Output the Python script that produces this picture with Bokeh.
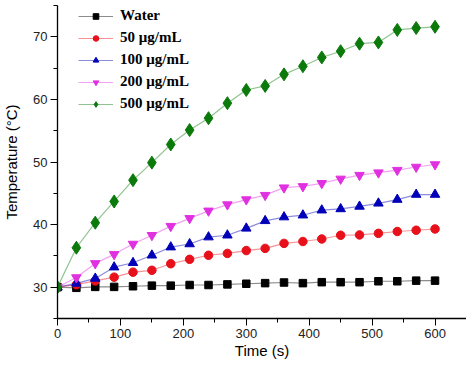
from bokeh.plotting import figure
from bokeh.models import SingleIntervalTicker, Range1d, Legend, LegendItem
from bokeh.embed import file_html
from bokeh.resources import INLINE

time_s = [0, 30, 60, 90, 120, 150, 180, 210, 240, 270, 300, 330, 360, 390, 420, 450, 480, 510, 540, 570, 600]
water = [30.0, 29.9, 30.05, 30.05, 30.15, 30.25, 30.25, 30.35, 30.35, 30.45, 30.55, 30.65, 30.75, 30.65, 30.8, 30.8, 30.8, 30.95, 30.95, 31.05, 31.05]
c50 = [30.0, 30.4, 31.0, 31.6, 32.4, 32.7, 33.75, 34.45, 35.1, 35.4, 35.85, 36.2, 37.0, 37.3, 37.7, 38.3, 38.35, 38.6, 38.9, 39.1, 39.3]
c100 = [30.0, 30.6, 31.4, 33.2, 33.9, 35.1, 36.4, 36.9, 38.0, 38.3, 39.4, 40.6, 41.2, 41.5, 42.3, 42.5, 42.9, 43.4, 44.0, 44.8, 44.8]
c200 = [30.0, 31.55, 33.8, 35.25, 36.9, 38.3, 39.75, 41.0, 42.2, 43.2, 44.0, 44.7, 45.9, 46.1, 46.6, 47.3, 47.9, 48.3, 48.7, 49.2, 49.6]
c500 = [30.0, 36.3, 40.3, 43.7, 47.1, 49.9, 52.8, 55.1, 57.0, 59.4, 61.5, 62.15, 64.0, 65.3, 66.7, 67.7, 68.9, 69.1, 71.1, 71.4, 71.6]

labels = ["Water", "50 \u03bcg/mL", "100 \u03bcg/mL", "200 \u03bcg/mL", "500 \u03bcg/mL"]
series = [water, c50, c100, c200, c500]
colors = ["#000000", "#e8101a", "#0000b8", "#e030e0", "#0b7a0b"]
markers = ["square", "circle", "triangle", "inverted_triangle", "diamond"]
sizes = [7.5, 8.5, 9.5, 9.5, 13]

p = figure(width=466, height=363, output_backend="svg", toolbar_location=None,
           x_range=Range1d(0, 650), y_range=Range1d(25, 75),
           min_border_left=56, min_border_right=0, min_border_top=5, min_border_bottom=45)
p.outline_line_color = None
p.grid.visible = False
p.background_fill_color = "white"
p.border_fill_color = "white"

items = []
for lab, ys, col, mk, sz in zip(labels, series, colors, markers, sizes):
    ln = p.line(time_s, ys, line_color=col, line_alpha=0.45, line_width=1.2)
    sc = p.scatter(time_s, ys, marker=mk, size=sz, fill_color=col, line_color=col)
    items.append(LegendItem(label=lab, renderers=[ln, sc]))

legend = Legend(items=items, location=(21, 206))
legend.background_fill_alpha = 0
legend.border_line_color = None
legend.padding = 0
legend.margin = 0
legend.spacing = 5
legend.glyph_width = 35
legend.glyph_height = 14
legend.label_height = 14
legend.label_standoff = 7
legend.label_text_font = "Liberation Serif"
legend.label_text_font_style = "bold"
legend.label_text_font_size = "15px"
legend.label_text_color = "#000000"
p.add_layout(legend, "center")

p.xaxis.ticker = SingleIntervalTicker(interval=100, num_minor_ticks=2)
p.yaxis.ticker = SingleIntervalTicker(interval=10, num_minor_ticks=2)
for ax in (p.xaxis, p.yaxis):
    ax.axis_line_color = "#000000"
    ax.axis_line_width = 1.3
    ax.major_tick_line_color = "#000000"
    ax.minor_tick_line_color = "#000000"
    ax.major_tick_out = 7
    ax.major_tick_in = 0
    ax.minor_tick_out = 4
    ax.minor_tick_in = 0
    ax.major_label_text_font = "Liberation Sans"
    ax.major_label_text_font_size = "13px"
    ax.major_label_text_color = "#222222"
    ax.axis_label_text_font = "Liberation Sans"
    ax.axis_label_text_font_size = "15px"
    ax.axis_label_text_font_style = "normal"
    ax.axis_label_text_color = "#000000"
p.xaxis.axis_label = "Time (s)"
p.yaxis.axis_label = "Temperature (\u00b0C)"
p.xaxis.axis_label_standoff = 1
p.yaxis.axis_label_standoff = 10
p.xaxis.major_label_standoff = 3
p.yaxis.major_label_standoff = 3

open("out.html", "w").write(file_html(p, INLINE))
